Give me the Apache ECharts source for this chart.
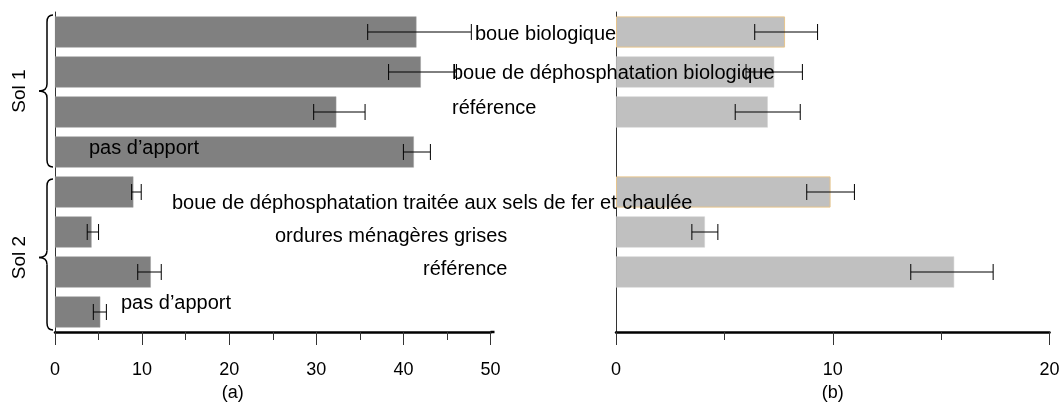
<!DOCTYPE html>
<html lang="fr">
<head>
<meta charset="utf-8">
<title>Sol 1 / Sol 2</title>
<style>
html, body { margin: 0; padding: 0; background: #fff; }
#chart { width: 1059px; height: 403px; }
</style>
</head>
<body>
<div id="chart"></div>
<script src="https://cdn.jsdelivr.net/npm/echarts@6/dist/echarts.min.js"></script>
<script>
// data
var soils = ['Sol 1', 'Sol 2'];
var treatments = [
    'boue biologique',
    'boue de déphosphatation biologique',
    'référence',
    'pas d’apport',
    'boue de déphosphatation traitée aux sels de fer et chaulée',
    'ordures ménagères grises',
    'référence',
    'pas d’apport'
];
var soilOf = [0, 0, 0, 0, 1, 1, 1, 1];
// panel (a)
var valuesA = [41.5, 42.0, 32.3, 41.2, 9.0, 4.2, 11.0, 5.2];
var lowA = [35.9, 38.3, 29.7, 40.0, 8.8, 3.7, 9.5, 4.4];
var highA = [47.8, 46.1, 35.6, 43.1, 9.9, 5.0, 12.2, 5.9];
// panel (b), no bar for "pas d'apport"
var valuesB = [7.8, 7.3, 7.0, null, 9.9, 4.1, 15.6, null];
var lowB = [6.4, 6.0, 5.5, null, 8.8, 3.5, 13.6, null];
var highB = [9.3, 8.6, 8.5, null, 11.0, 4.7, 17.4, null];
var outlined = [true, false, false, false, true, false, false, false];
var axisA = {min: 0, max: 50, interval: 10, name: '(a)'};
var axisB = {min: 0, max: 20, interval: 10, name: '(b)'};

// where the treatment names sit (left edge px, shift from bar centre px)
var labelLeft = [475, 452, 452, 89, 172, 275, 423, 121];
var labelDy = [2, 1, -4, -4, 11, 4, -3, -9];

var ids = treatments.map(function (t, i) { return 'c' + i; });
var FONT = '"Liberation Sans", Arial, sans-serif';

var chart = echarts.init(document.getElementById('chart'));

function errData(low, high) {
    var out = [];
    for (var i = 0; i < low.length; i++) {
        if (low[i] != null) out.push([low[i], i, high[i]]);
    }
    return out;
}

function renderErr(params, api) {
    var y = api.value(1);
    var a = api.coord([api.value(0), y]);
    var b = api.coord([api.value(2), y]);
    var h = 8;
    var st = {stroke: '#000', lineWidth: 1};
    return {
        type: 'group',
        children: [
            {type: 'line', shape: {x1: a[0], y1: a[1], x2: b[0], y2: b[1]}, style: st},
            {type: 'line', shape: {x1: a[0], y1: a[1] - h, x2: a[0], y2: a[1] + h}, style: st},
            {type: 'line', shape: {x1: b[0], y1: b[1] - h, x2: b[0], y2: b[1] + h}, style: st}
        ]
    };
}

function valueAxis(idx, cfg, padRight) {
    return {
        type: 'value',
        gridIndex: idx,
        min: cfg.min,
        max: cfg.max,
        interval: cfg.interval,
        name: cfg.name,
        nameLocation: 'middle',
        nameGap: 50,
        nameTextStyle: {color: '#000', fontSize: 18, fontFamily: FONT, padding: [0, padRight, 0, 0]},
        axisLine: {show: true, onZero: false, lineStyle: {color: '#000', width: 2.5}},
        axisTick: {show: true, length: 13, lineStyle: {color: '#333', width: 1}},
        minorTick: {show: true, splitNumber: 2, length: 8, lineStyle: {color: '#333', width: 1}},
        axisLabel: {color: '#000', fontSize: 18, fontFamily: FONT, margin: 29},
        splitLine: {show: false}
    };
}

function catAxis(idx) {
    return {
        type: 'category',
        gridIndex: idx,
        data: ids,
        inverse: true,
        axisLine: {show: true, lineStyle: {color: '#333', width: 1}},
        axisTick: {show: false},
        axisLabel: {show: false}
    };
}

chart.setOption({
    animation: false,
    backgroundColor: '#fff',
    grid: [
        {left: 55, top: 12, width: 435.5, height: 320, outerBoundsMode: 'none'},
        {left: 616, top: 12, width: 433.5, height: 320, outerBoundsMode: 'none'}
    ],
    xAxis: [valueAxis(0, axisA, 80), valueAxis(1, axisB, 0)],
    yAxis: [catAxis(0), catAxis(1)],
    series: [
        {
            type: 'bar',
            xAxisIndex: 0,
            yAxisIndex: 0,
            barCategoryGap: '22%',
            itemStyle: {color: '#808080', borderColor: '#a0a0a0', borderWidth: 0.5},
            data: valuesA
        },
        {
            type: 'bar',
            xAxisIndex: 1,
            yAxisIndex: 1,
            barCategoryGap: '22%',
            data: valuesB.map(function (v, i) {
                if (v == null) return null;
                return {
                    value: v,
                    itemStyle: outlined[i]
                        ? {color: '#c0c0c0', borderColor: '#e6c48c', borderWidth: 1}
                        : {color: '#c0c0c0', borderColor: '#d0d0d0', borderWidth: 0.5}
                };
            })
        },
        {
            type: 'custom',
            xAxisIndex: 0,
            yAxisIndex: 0,
            renderItem: renderErr,
            encode: {x: [0, 2], y: 1},
            z: 5,
            data: errData(lowA, highA)
        },
        {
            type: 'custom',
            xAxisIndex: 1,
            yAxisIndex: 1,
            renderItem: renderErr,
            encode: {x: [0, 2], y: 1},
            z: 5,
            data: errData(lowB, highB)
        }
    ]
});

// names of the treatments, braces and soil labels
var els = [];
var ys = treatments.map(function (t, i) {
    return chart.convertToPixel({yAxisIndex: 0}, ids[i]);
});
treatments.forEach(function (t, i) {
    els.push({
        type: 'text',
        z: 4,
        style: {
            text: t, x: labelLeft[i], y: ys[i] + labelDy[i],
            fill: '#000', font: '20px ' + FONT,
            verticalAlign: 'middle', align: 'left'
        }
    });
});

function curve(x1, y1, cx, cy, x2, y2) {
    return {
        type: 'bezierCurve',
        shape: {x1: x1, y1: y1, cpx1: cx, cpy1: cy, x2: x2, y2: y2},
        style: {stroke: '#000', lineWidth: 1.5, fill: null}
    };
}
function seg(x1, y1, x2, y2) {
    return {
        type: 'line',
        shape: {x1: x1, y1: y1, x2: x2, y2: y2},
        style: {stroke: '#000', lineWidth: 1.5}
    };
}

soils.forEach(function (s, k) {
    var rows = [];
    soilOf.forEach(function (g, i) { if (g === k) rows.push(ys[i]); });
    var yT = rows[0] - 17 + k * 4;
    var yB = rows[rows.length - 1] + 15 + k * 3;
    var yM = (yT + yB) / 2 + k * 3;
    var xR = 53, xV = 47, xT = 39;
    els.push({
        type: 'group',
        children: [
            curve(xR, yT, xV, yT, xV, yT + 7),
            seg(xV, yT + 7, xV, yM - 7),
            curve(xV, yM - 7, xV, yM, xT, yM),
            curve(xT, yM, xV, yM, xV, yM + 7),
            seg(xV, yM + 7, xV, yB - 7),
            curve(xV, yB - 7, xV, yB, xR, yB)
        ]
    });
    els.push({
        type: 'text',
        x: 20, y: yM,
        rotation: Math.PI / 2,
        style: {
            text: s, fill: '#000', font: '19px ' + FONT,
            align: 'center', verticalAlign: 'middle'
        }
    });
});
// the bottom axis line of (a) runs a little past 50
var end = chart.convertToPixel({xAxisIndex: 0}, axisA.max);
var base = chart.convertToPixel({yAxisIndex: 0}, ids[ids.length - 1]) + 20;
els.push({
    type: 'line',
    shape: {x1: end, y1: base, x2: end + 4, y2: base},
    style: {stroke: '#000', lineWidth: 2.5}
});
chart.setOption({graphic: els});
</script>
</body>
</html>
